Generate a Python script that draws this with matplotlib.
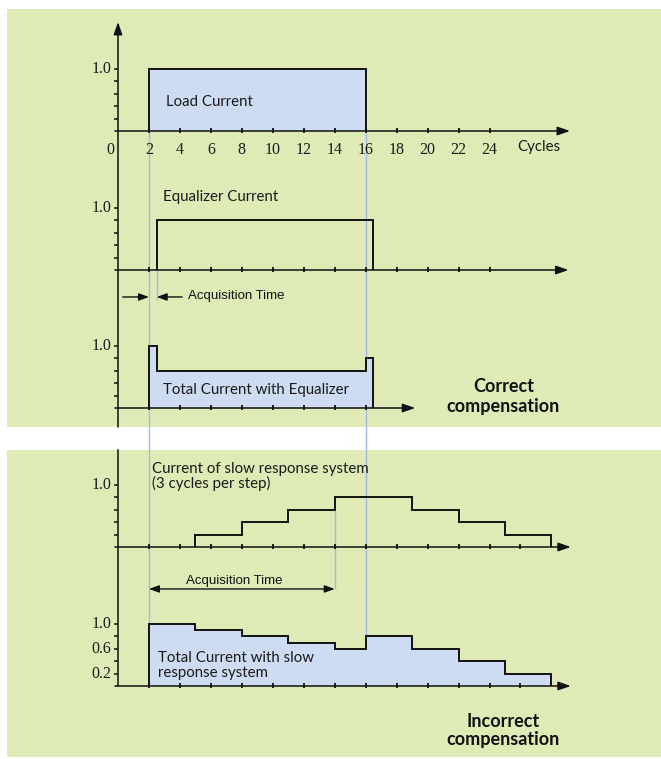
import numpy as np
import matplotlib
matplotlib.use("Agg")
from matplotlib import pyplot as plt
from matplotlib.patches import Rectangle

# data (cycles on x, current on y)
load_edges = [2, 16]
load_levels = [1.0]

eq_edges = [2.5, 16.5]
eq_levels = [0.8]

total_eq_edges = [2, 2.5, 16, 16.5]
total_eq_levels = [1.0, 0.6, 0.8]

slow_edges = [5, 8, 11, 14, 19, 22, 25, 28]
slow_levels = [0.2, 0.4, 0.6, 0.8, 0.6, 0.4, 0.2]

total_slow_edges = [2, 5, 8, 11, 14, 16, 19, 22, 25, 28]
total_slow_levels = [1.0, 0.9, 0.8, 0.7, 0.6, 0.8, 0.6, 0.4, 0.2]

cycle_ticks = [2, 4, 6, 8, 10, 12, 14, 16, 18, 20, 22, 24]
cycle_ticks_short = [2, 4, 6, 8, 10, 12, 14, 16]
cycle_ticks_long = [2, 4, 6, 8, 10, 12, 14, 16, 18, 20, 22, 24, 26]
minor_y = [0.2, 0.4, 0.6, 0.8, 1.0]
y_labels_bottom = [1.0, 0.6, 0.2]

# colours / fonts
GREEN = "#deebb6"
FILL = "#cddcf2"
BLUE = "#a3b8e2"
INK = "#111111"
LABEL_FONT = ["Lato", "DejaVu Sans"]
NUM_FONT = ["Liberation Serif", "DejaVu Serif"]
ARIAL = ["Liberation Sans", "DejaVu Sans"]

W, H = 661, 759
PX_X = 15.48      # pixels per cycle
PX_Y = 62.0       # pixels per 1.0 current
X0 = 118          # pixel x of cycle 0


def yp(pix):
    # pixel row -> y data unit
    return (H - pix) / PX_Y


base = [yp(131), yp(270), yp(408), yp(547), yp(686)]

fig = plt.figure(figsize=(W / 100, H / 100), dpi=100)
ax = fig.add_axes([0, 0, 1, 1])
ax.set_xlim(-X0 / PX_X, (W - X0) / PX_X)
ax.set_ylim(0, H / PX_Y)
ax.axis("off")

# green panels
ax.add_patch(Rectangle((7 / W, 1 - 427 / H), 654 / W, 418 / H,
                       transform=ax.transAxes, color=GREEN, lw=0, zorder=0))
ax.add_patch(Rectangle((7 / W, 1 - 757 / H), 654 / W, 307 / H,
                       transform=ax.transAxes, color=GREEN, lw=0, zorder=0))

arrow_kw = dict(arrowstyle="-|>,head_length=0.75,head_width=0.26",
                color=INK, lw=1.1, shrinkA=0, shrinkB=0)


def axis_arrow(x0, y0, x1, y1):
    ax.annotate("", xy=(x1, y1), xytext=(x0, y0),
                arrowprops=arrow_kw, zorder=3)


# vertical axes
axis_arrow(0, yp(427), 0, yp(22))
ax.plot([0, 0], [yp(450), base[4]], color=INK, lw=1.1, zorder=3)

# horizontal axes with ticks
x_ends = [29.2, 29.1, 19.2, 29.25, 29.25]
x_tick_sets = [cycle_ticks, cycle_ticks, cycle_ticks_short,
               cycle_ticks_long, cycle_ticks_long]
for b, xe, ticks in zip(base, x_ends, x_tick_sets):
    axis_arrow(-0.2, b, xe, b)
    ax.vlines(ticks, b - 0.035, b + 0.045, color=INK, lw=1.3, zorder=3)
    ax.hlines([b + v for v in minor_y], -0.27, 0, color=INK, lw=1.1, zorder=3)

# y labels
num = dict(fontsize=11.5, family=NUM_FONT, color="#1a1a1a", zorder=5)
for b in base[:4]:
    ax.text(-0.42, b + 1.0, "1.0", ha="right", va="center", **num)
for v in y_labels_bottom:
    ax.text(-0.42, base[4] + v, f"{v:.1f}", ha="right", va="center", **num)

# x labels on top plot
for t in cycle_ticks:
    ax.text(t, base[0] - 0.31, str(t), ha="center", va="center", **num)
ax.text(-0.5, base[0] - 0.31, "0", ha="center", va="center", **num)
ax.text(25.8, base[0] - 0.26, "Cycles", ha="left", va="center",
        fontsize=10.8, family=LABEL_FONT, color="#1a1a1a", zorder=5)

# blue guide lines
acq_top_y = base[1] - 0.435
acq_bot_y = base[4] + 1.565
ax.vlines([2, 16], base[4], base[0], color=BLUE, lw=1.0, zorder=1)
ax.vlines(2.5, acq_top_y - 0.05, base[1], color=BLUE, lw=1.0, zorder=1)
ax.vlines(14, acq_bot_y, base[3] + slow_levels[2], color=BLUE, lw=1.0, zorder=1)


def trace(edges, levels, b, fill):
    vals = np.array(levels) + b
    if fill:
        ax.stairs(vals, edges, baseline=b, fill=True, color=FILL, lw=0, zorder=2)
    ax.stairs(vals, edges, baseline=b, fill=False, color=INK, lw=1.4, zorder=4)


trace(load_edges, load_levels, base[0], True)
trace(eq_edges, eq_levels, base[1], False)
trace(total_eq_edges, total_eq_levels, base[2], True)
trace(slow_edges, slow_levels, base[3], False)
trace(total_slow_edges, total_slow_levels, base[4], True)

# acquisition time markers
small_arrow = dict(arrowstyle="-|>,head_length=0.6,head_width=0.22",
                   color=INK, lw=1.0, shrinkA=0, shrinkB=0)
ax.annotate("", xy=(2, acq_top_y), xytext=(0.3, acq_top_y),
            arrowprops=small_arrow, zorder=4)
ax.annotate("", xy=(2.5, acq_top_y), xytext=(4.15, acq_top_y),
            arrowprops=small_arrow, zorder=4)
ax.text(4.5, acq_top_y + 0.02, "Acquisition Time", ha="left", va="center",
        fontsize=9.5, family=ARIAL, color=INK, zorder=5)

ax.annotate("", xy=(2, acq_bot_y), xytext=(14, acq_bot_y),
            arrowprops=dict(arrowstyle="<|-|>,head_length=0.6,head_width=0.22",
                            color=INK, lw=1.0, shrinkA=0, shrinkB=0), zorder=4)
ax.text(7.5, acq_bot_y + 0.13, "Acquisition Time", ha="center", va="center",
        fontsize=9.5, family=ARIAL, color=INK, zorder=5)

# curve labels
lab = dict(fontsize=10.8, family=LABEL_FONT, color="#1a1a1a", ha="left",
           va="center", zorder=5)
ax.text(3.1, base[0] + 0.47, "Load Current", **lab)
ax.text(2.9, base[1] + 1.18, "Equalizer Current", **lab)
ax.text(2.9, base[2] + 0.29, "Total Current with Equalizer", **lab)
ax.text(2.2, base[3] + 1.26, "Current of slow response system", **lab)
ax.text(2.2, base[3] + 1.02, "(3 cycles per step)", **lab)
ax.text(2.6, base[4] + 0.45, "Total Current with slow", **lab)
ax.text(2.6, base[4] + 0.21, "response system", **lab)

bold = dict(fontsize=13, family=LABEL_FONT, fontweight="bold", color=INK,
            ha="center", va="center", zorder=5)
ax.text(24.9, base[2] + 0.34, "Correct", **bold)
ax.text(24.9, base[2] + 0.03, "compensation", **bold)
ax.text(24.9, base[4] - 0.58, "Incorrect", **bold)
ax.text(24.9, base[4] - 0.87, "compensation", **bold)

fig.savefig("out.png", dpi=100)
